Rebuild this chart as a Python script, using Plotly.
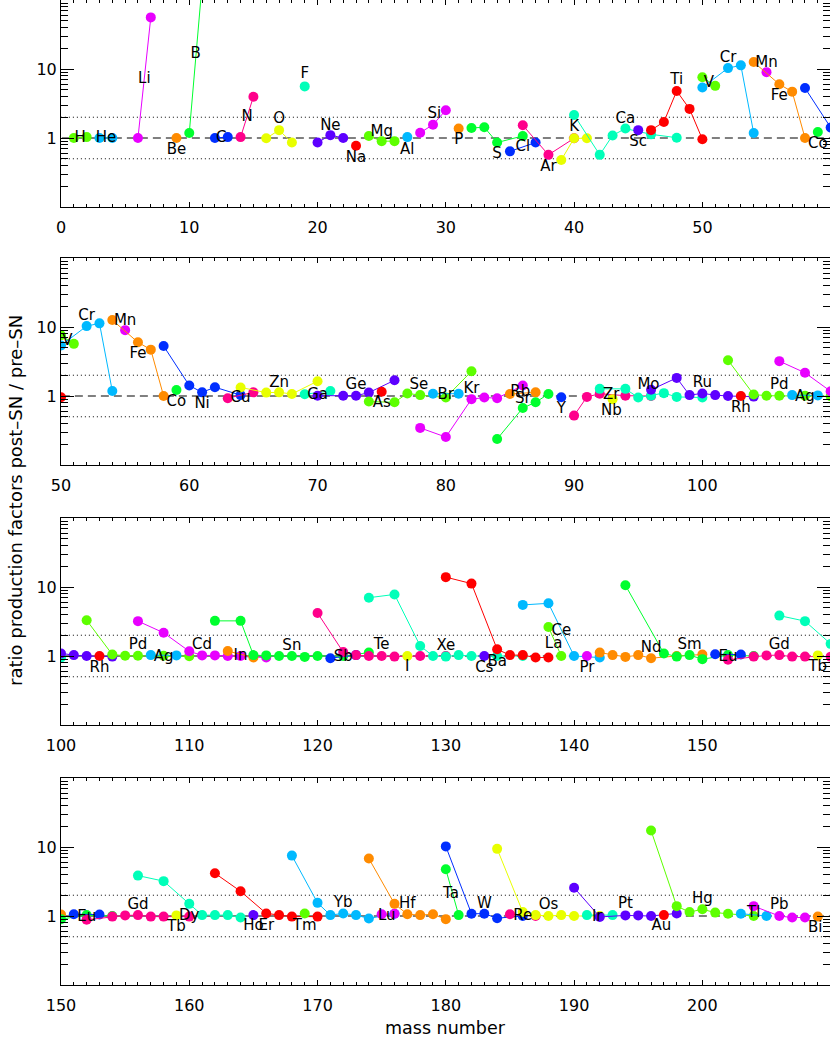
import plotly.graph_objects as go

# ---------------- data ----------------
elements = ["H", "He", "Li", "Be", "B", "C", "N", "O", "F", "Ne",
            "Na", "Mg", "Al", "Si", "P", "S", "Cl", "Ar", "K", "Ca",
            "Sc", "Ti", "V", "Cr", "Mn", "Fe", "Co", "Ni", "Cu", "Zn",
            "Ga", "Ge", "As", "Se", "Br", "Kr", "Rb", "Sr", "Y", "Zr",
            "Nb", "Mo", "Ru", "Rh", "Pd", "Ag", "Cd", "In", "Sn", "Sb",
            "Te", "I", "Xe", "Cs", "Ba", "La", "Ce", "Pr", "Nd", "Sm",
            "Eu", "Gd", "Tb", "Dy", "Ho", "Er", "Tm", "Yb", "Lu", "Hf",
            "Ta", "W", "Re", "Os", "Ir", "Pt", "Au", "Hg", "Tl", "Pb", "Bi"]

masses = [
    [1, 2], [3, 4], [6, 7], [9], [10, 11], [12, 13], [14, 15], [16, 17, 18], [19], [20, 21, 22],
    [23], [24, 25, 26], [27], [28, 29, 30], [31], [32, 33, 34, 36], [35, 37], [36, 38, 40], [39, 40, 41],
    [40, 42, 43, 44, 46, 48],
    [45], [46, 47, 48, 49, 50], [50, 51], [50, 52, 53, 54], [55], [54, 56, 57, 58], [59],
    [58, 60, 61, 62, 64], [63, 65], [64, 66, 67, 68, 70],
    [69, 71], [70, 72, 73, 74, 76], [75], [74, 76, 77, 78, 80, 82], [79, 81], [78, 80, 82, 83, 84, 86],
    [85, 87], [84, 86, 87, 88], [89], [90, 91, 92, 94, 96],
    [93], [92, 94, 95, 96, 97, 98, 100], [96, 98, 99, 100, 101, 102, 104], [103],
    [102, 104, 105, 106, 108, 110], [107, 109], [106, 108, 110, 111, 112, 113, 114, 116], [113, 115],
    [112, 114, 115, 116, 117, 118, 119, 120, 122, 124], [121, 123],
    [120, 122, 123, 124, 125, 126, 128, 130], [127], [124, 126, 128, 129, 130, 131, 132, 134, 136], [133],
    [130, 132, 134, 135, 136, 137, 138], [138, 139], [136, 138, 140, 142], [141],
    [142, 143, 144, 145, 146, 148, 150], [144, 147, 148, 149, 150, 152, 154],
    [151, 153], [152, 154, 155, 156, 157, 158, 160], [159], [156, 158, 160, 161, 162, 163, 164], [165],
    [162, 164, 166, 167, 168, 170], [169], [168, 170, 171, 172, 173, 174, 176], [175, 176],
    [174, 176, 177, 178, 179, 180],
    [180, 181], [180, 182, 183, 184, 186], [185, 187], [184, 186, 187, 188, 189, 190, 192], [191, 193],
    [190, 192, 194, 195, 196, 198], [197], [196, 198, 199, 200, 201, 202, 204], [203, 205],
    [204, 206, 207, 208], [209]]

ratios = [
    [1.0, 1.03], [1.0, 1.0], [1.0, 56.0], [1.0], [1.18, 170.0], [1.0, 1.03], [1.03, 3.96],
    [0.99, 1.30, 0.86], [5.6], [0.86, 1.10, 1.0],
    [0.77], [1.07, 0.90, 0.90], [1.03], [1.19, 1.56, 2.53], [1.37], [1.40, 1.43, 0.86, 1.07], [0.64, 0.86],
    [1.53, 0.57, 0.99], [0.48, 0.99, 0.99], [2.15, 0.57, 1.09, 1.37, 1.13, 1.01],
    [1.30], [1.30, 1.71, 4.8, 2.64, 0.96], [7.6, 5.7], [5.4, 10.3, 11.3, 1.18], [9.0], [12.6, 6.0, 4.7, 1.0],
    [1.22], [5.3, 1.42, 1.13, 1.34, 1.03], [0.93, 1.13], [1.33, 1.12, 1.13, 1.07, 1.64],
    [1.06, 1.18], [1.01, 1.01, 1.01, 1.12, 1.69], [1.15], [0.83, 0.81, 1.09, 1.03, 0.95, 2.28], [1.08, 1.08],
    [0.345, 0.254, 0.90, 0.95, 0.93, 1.42],
    [1.07, 1.13], [0.238, 0.67, 0.81, 1.07], [0.96], [0.52, 0.97, 1.08, 1.01, 1.0],
    [0.90], [1.27, 1.27, 0.95, 1.01, 1.10, 0.97, 0.95], [1.23, 1.83, 1.03, 1.09, 1.03, 1.0, 0.98], [1.0],
    [3.3, 1.05, 1.01, 1.01, 1.01, 0.99], [1.03, 1.02], [3.2, 2.17, 1.17, 1.02, 1.02, 1.0, 1.0, 0.95],
    [1.18, 0.95],
    [3.23, 3.23, 1.03, 1.02, 1.0, 1.0, 0.97, 1.0, 1.0, 1.12], [0.93, 1.03],
    [4.2, 1.14, 1.03, 1.0, 1.0, 0.98, 1.0, 1.0], [1.0], [7.0, 7.8, 1.40, 1.0, 0.98, 1.03, 1.0, 1.0, 1.0],
    [1.0],
    [13.9, 11.2, 1.25, 1.03, 1.03, 0.95, 0.95], [2.63, 1.0], [5.5, 5.8, 1.0, 0.95], [1.0],
    [1.12, 1.03, 0.97, 1.03, 0.93, 1.0, 1.05], [10.6, 1.09, 0.98, 1.03, 0.90, 1.03, 1.0],
    [1.06, 1.05], [0.88, 0.98, 1.02, 1.03, 0.98, 0.98, 0.98], [1.02], [3.85, 3.2, 1.5, 1.03, 1.03, 1.03, 0.95],
    [1.03],
    [4.16, 2.28, 1.09, 1.03, 0.98, 0.98], [1.09], [7.5, 1.55, 1.03, 1.09, 1.03, 0.92, 1.08], [1.06, 1.08],
    [6.8, 1.5, 1.06, 1.03, 1.06, 0.90],
    [4.75, 1.03], [10.2, 1.08, 1.08, 0.93, 1.0], [1.06, 1.0], [9.4, 1.14, 1.03, 1.0, 1.03, 1.0, 1.0],
    [1.03, 1.03],
    [2.57, 0.97, 1.02, 1.02, 1.0, 1.09], [1.03], [17.3, 1.39, 1.14, 1.25, 1.12, 1.08, 1.0], [1.08, 1.0],
    [1.39, 1.0, 0.95, 0.95], [0.98]]

label_mass = [
    1.5, 3.5, 6.5, 9.0, 10.5, 12.5, 14.5, 17.0, 19.0, 21.0,
    23.0, 25.0, 27.0, 29.1, 31.0, 34.0, 36.0, 38.0, 40.0, 44.0,
    45.0, 48.0, 50.5, 52.0, 55.0, 56.0, 59.0, 61.0, 64.0, 67.0,
    70.0, 73.0, 75.0, 77.9, 80.0, 82.0, 85.8, 86.0, 89.0, 92.9,
    92.9, 95.8, 100.0, 103.0, 106.0, 108.0, 111.0, 114.0, 118.0, 122.0,
    125.0, 127.0, 130.0, 133.0, 134.0, 138.4, 139.0, 141.0, 146.0, 149.0,
    152.0, 156.0, 159.0, 160.0, 165.0, 166.0, 169.0, 172.0, 175.4, 177.0,
    180.4, 183.0, 186.0, 188.0, 191.8, 194.0, 196.8, 200.0, 204.0, 206.0, 208.8]

label_ratio = [
    1.0, 0.98, 7.2, 0.67, 16.5, 1.0, 2.0, 1.84, 8.5, 1.50,
    0.51, 1.23, 0.67, 2.24, 0.94, 0.59, 0.74, 0.38, 1.45, 1.90,
    0.86, 6.8, 6.3, 14.5, 12.3, 4.05, 0.80, 0.76, 0.93, 1.55,
    1.03, 1.44, 0.79, 1.44, 1.03, 1.25, 1.13, 0.91, 0.65, 1.03,
    0.61, 1.44, 1.55, 0.66, 1.45, 0.95, 1.42, 1.0, 1.39, 0.95,
    1.42, 0.68, 1.39, 0.66, 0.82, 1.50, 2.27, 0.66, 1.31, 1.42,
    0.97, 1.42, 0.68, 1.0, 0.70, 0.70, 0.72, 1.51, 1.0, 1.46,
    2.08, 1.50, 1.0, 1.42, 0.97, 1.46, 0.70, 1.73, 1.08, 1.42, 0.66]

panel_starts = [0, 50, 100, 150]
panel_span = 59.95
ref_levels = [1.0, 2.0, 0.5]
y_tick_vals = [1, 10]
y_tick_text = ["1", "10"]

# ---------------- styles ----------------
palette = ["#ff0000", "#5dff00", "#00b9ff", "#e800ff", "#ff8b00", "#00ff2e",
           "#002eff", "#ff008b", "#e8ff00", "#00ffb9", "#5d00ff"]
FONT = "DejaVu Sans"
W, H = 830, 1037
ML, MB = 61, 52
plot_h = H - MB
# panel top/bottom pixel rows inside the plotting area
panel_px = [(0, 207), (258, 465), (518, 725), (778, 985)]

minor_y = [m * 10.0 ** e for e in (-1, 0, 1) for m in range(2, 10)]

fig = go.Figure()

for p, x0 in enumerate(panel_starts):
    xa = "x" if p == 0 else f"x{p + 1}"
    ya = "y" if p == 0 else f"y{p + 1}"
    lo, hi = x0 - 3, x0 + panel_span + 3
    # reference lines
    for lev in ref_levels:
        fig.add_trace(go.Scatter(
            x=[x0 - 5, x0 + 65], y=[lev, lev], mode="lines",
            line=dict(color="black", width=1,
                      dash="8px,5px" if lev == 1.0 else "1px,3px"),
            xaxis=xa, yaxis=ya, showlegend=False, hoverinfo="skip"))
    for i, el in enumerate(elements):
        ms = masses[i]
        if max(ms) < lo or min(ms) > hi:
            continue
        col = palette[(i + 1) % 11]
        fig.add_trace(go.Scatter(
            x=ms, y=ratios[i], mode="lines+markers",
            line=dict(color=col, width=1),
            marker=dict(color=col, size=10, line=dict(width=0)),
            xaxis=xa, yaxis=ya, showlegend=False, name=el))
    sel = [i for i in range(len(elements)) if x0 < label_mass[i] < x0 + panel_span]
    fig.add_trace(go.Scatter(
        x=[label_mass[i] for i in sel], y=[label_ratio[i] for i in sel],
        text=[elements[i] for i in sel], mode="text",
        textposition="middle center",
        textfont=dict(family=FONT, size=15, color="black"),
        xaxis=xa, yaxis=ya, showlegend=False, hoverinfo="skip"))

    top, bot = panel_px[p]
    dom = [1 - bot / plot_h, 1 - top / plot_h]
    xkey = "xaxis" if p == 0 else f"xaxis{p + 1}"
    ykey = "yaxis" if p == 0 else f"yaxis{p + 1}"
    fig.update_layout({
        xkey: dict(range=[x0, x0 + panel_span], domain=[0, 1], anchor=ya,
                   tick0=0, dtick=10, ticks="inside", ticklen=5, tickwidth=1,
                   tickcolor="black", showline=True, linecolor="black", linewidth=1,
                   mirror="ticks", showgrid=False, zeroline=False,
                   ticklabelstandoff=6,
                   tickfont=dict(family=FONT, size=16, color="black"),
                   minor=dict(dtick=1, tick0=0, ticks="inside", ticklen=3,
                              tickcolor="black", showgrid=False)),
        ykey: dict(type="log", range=[-1, 2], domain=dom, anchor=xa,
                   tickmode="array", tickvals=y_tick_vals, ticktext=y_tick_text,
                   ticks="inside", ticklen=13, tickwidth=1, tickcolor="black",
                   showline=True, linecolor="black", linewidth=1, mirror="ticks",
                   showgrid=False, zeroline=False,
                   tickfont=dict(family=FONT, size=16, color="black"),
                   minor=dict(tickmode="array", tickvals=minor_y, ticks="inside",
                              ticklen=7, tickcolor="black", showgrid=False)),
    })

fig.add_annotation(text="ratio production factors post\u2013SN / pre\u2013SN",
                   xref="paper", yref="paper", x=(15 - ML) / (W - ML), y=1 - 501 / plot_h,
                   xanchor="center", yanchor="middle", textangle=-90, showarrow=False,
                   font=dict(family=FONT, size=18, color="black"))
fig.add_annotation(text="mass number", xref="paper", yref="paper",
                   x=0.5, y=-(1028 - plot_h) / plot_h, xanchor="center", yanchor="middle",
                   showarrow=False, font=dict(family=FONT, size=17.5, color="black"))

fig.update_layout(width=W, height=H, margin=dict(l=ML, r=0, t=0, b=MB),
                  paper_bgcolor="white", plot_bgcolor="white", showlegend=False)

fig.write_html("out.html", config={"displayModeBar": False},
               post_script="document.body.style.margin='0';document.body.style.overflow='hidden';")
